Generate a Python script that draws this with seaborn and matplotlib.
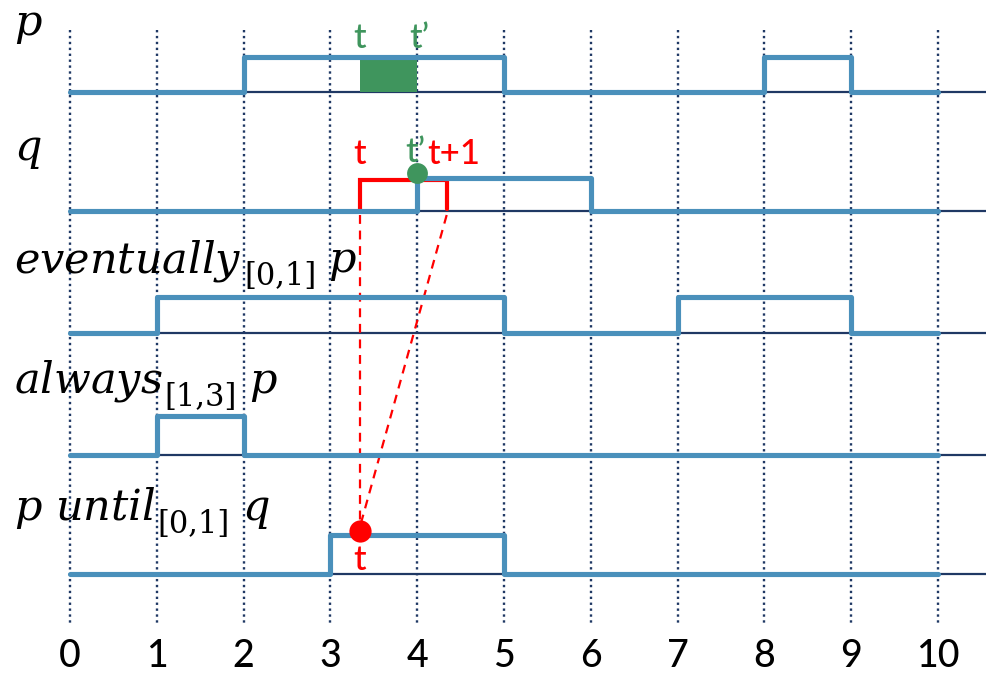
import numpy as np
import pandas as pd
import seaborn as sns
import matplotlib.pyplot as plt

# signals: transition times and the value held from that time on
signal_names = ['p', 'q', 'eventually', 'always', 'until']
signal_times = {'p': [0, 2, 5, 8, 9, 10],
                'q': [0, 4, 6, 10],
                'eventually': [0, 1, 5, 7, 9, 10],
                'always': [0, 1, 2, 10],
                'until': [0, 3, 5, 10]}
signal_values = {'p': [0, 1, 0, 1, 0, 0],
                 'q': [0, 1, 0, 0],
                 'eventually': [0, 1, 0, 1, 0, 0],
                 'always': [0, 1, 0, 0],
                 'until': [0, 1, 0, 0]}
# row labels as (formula, subscript interval, operand)
label_main = [r'$p$', r'$q$', r'$eventually$', r'$always$', r'$p\ until$']
label_sub = ['', '', '[0,1]', '[1,3]', '[0,1]']
label_tail = ['', '', r'$p$', r'$p$', r'$q$']
tick_pos = list(range(11))
tick_labels = ['0', '1', '2', '3', '4', '5', '6', '7', '8', '9', '10']
t_point = 3.34
t_prime = 4.0
window = 1.0

# layout (screen-like units, y grows downward)
row_base = [92, 211, 333, 455, 574]
row_amp = [35, 33, 36, 39, 39]
label_y = [35, 160, 272, 393, 520]

blue = '#4a90bb'
navy = '#1f3864'
green = '#3f955d'
red = '#ff0000'

rows = []
for name, base, amp in zip(signal_names, row_base, row_amp):
    for t, v in zip(signal_times[name], signal_values[name]):
        rows.append({'signal': name, 'time': t, 'y': base - v * amp})
df = pd.DataFrame(rows)

sns.set_style('white')
plt.rcParams['mathtext.fontset'] = 'dejavuserif'
plt.rcParams['font.family'] = ['Lato', 'DejaVu Sans']

fig = plt.figure(figsize=(9.86, 6.77), dpi=100)
ax = fig.add_axes([0, (677 - 632) / 677, 1, 632 / 677])
x_left, x_right = -0.806, 10.553
ax.set_xlim(x_left, x_right)
ax.set_ylim(632, 0)

# dotted time grid and thin baselines
ax.vlines(tick_pos, 30, 625, colors=navy, linestyles=(0, (1, 1.5)), lw=1.7, zorder=1)
ax.hlines(row_base, 0, x_right, colors=navy, lw=1.6, zorder=1)

# q window rectangle (behind the signal)
q_b, q_a = row_base[1], row_amp[1]
ax.plot([t_point, t_point, t_point + window, t_point + window],
        [q_b - 2, q_b - q_a + 2, q_b - q_a + 2, q_b - 2],
        color=red, lw=3, solid_joinstyle='miter', zorder=2)

# p: interval between t and t'
p_b, p_a = row_base[0], row_amp[0]
ax.fill_between([t_point, t_prime], p_b - p_a + 3, p_b, color=green, lw=0, zorder=2)

sns.lineplot(data=df, x='time', y='y', units='signal', estimator=None, sort=False,
             drawstyle='steps-post', color=blue, lw=3.7, ax=ax, zorder=3)

# dashed projections to the until point
u_b, u_a = row_base[4], row_amp[4]
for x0 in [t_point, t_point + window]:
    ax.plot([x0, t_point], [q_b + 4, u_b - u_a - 8], color=red, lw=1.6,
            linestyle=(0, (4, 3)), zorder=2)

ax.plot([t_prime], [q_b - q_a - 5], 'o', color=green, ms=15, mec='none', zorder=4)
ax.plot([t_point], [u_b - u_a - 4], 'o', color=red, ms=16, mec='none', zorder=4)

lab_kw = dict(fontsize=25, ha='center', va='baseline', fontweight='medium')
ax.text(t_point, 48, 't', color=green, **lab_kw)
ax.text(t_prime + 0.03, 48, 't\u2019', color=green, **lab_kw)
ax.text(t_point, 164, 't', color=red, **lab_kw)
ax.text(t_prime - 0.02, 162, 't\u2019', color=green, **lab_kw)
ax.text(t_point + window + 0.08, 164, 't+1', color=red, **lab_kw)
ax.text(t_point, 570, 't', color=red, **lab_kw)

# row labels: main word, larger upright subscript, operand
renderer = fig.canvas.get_renderer()
inv = ax.transData.inverted()
for main, sub, tail, y in zip(label_main, label_sub, label_tail, label_y):
    txt = ax.text(-0.64, y, main, fontsize=31, ha='left', va='baseline', color='black')
    x_end = inv.transform(txt.get_window_extent(renderer).get_points()[1])[0]
    if sub:
        s = ax.text(x_end + 0.02, y + 13, sub, fontsize=22, family='DejaVu Serif',
                    ha='left', va='baseline', color='black')
        x_end = inv.transform(s.get_window_extent(renderer).get_points()[1])[0]
        ax.text(x_end + 0.14, y, tail, fontsize=31, ha='left', va='baseline', color='black')

ax.set_xticks(tick_pos)
ax.set_xticklabels(tick_labels, fontsize=27, color='black', fontweight='medium')
ax.tick_params(axis='x', length=0, pad=5)
ax.set_yticks([])
ax.set_xlabel('')
ax.set_ylabel('')
for s in ax.spines.values():
    s.set_visible(False)

fig.savefig('out.png', dpi=100)
